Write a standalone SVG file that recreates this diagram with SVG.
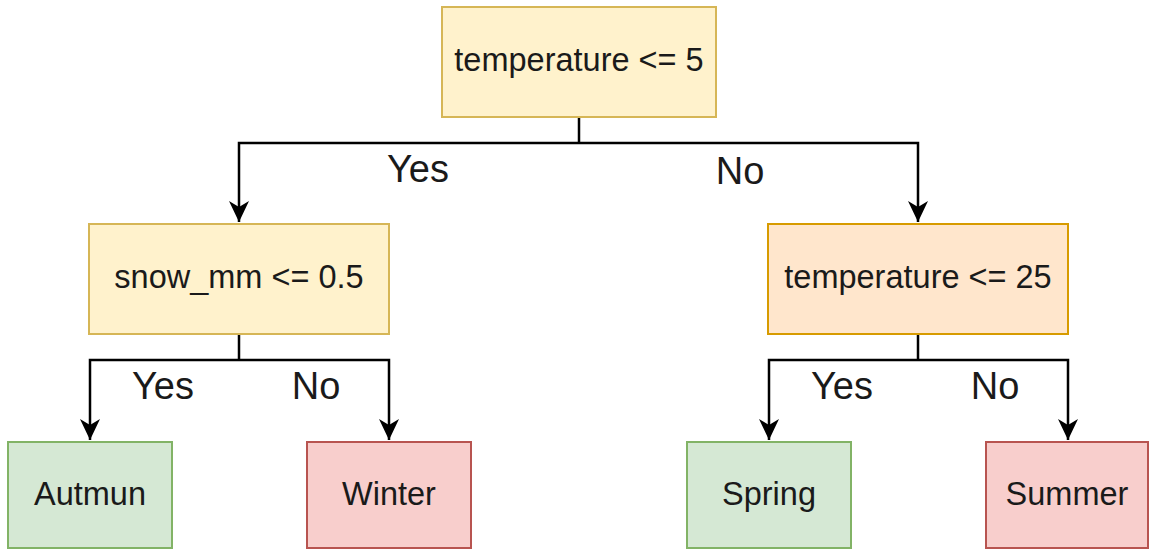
<svg xmlns="http://www.w3.org/2000/svg" width="1149" height="550" viewBox="0 0 1149 550">
<style>
.box{stroke-width:2}
.yellow{fill:#fff2cc;stroke:#d6b656}
.orange{fill:#ffe6cc;stroke:#d79b00}
.green{fill:#d5e8d4;stroke:#82b366}
.red{fill:#f8cecc;stroke:#b85450}
.nt{font-family:"Liberation Sans",Arial,sans-serif;font-size:32.5px;fill:#1a1a1a;text-anchor:middle}
.lbl{font-family:"Liberation Sans",Arial,sans-serif;font-size:38px;fill:#1a1a1a;text-anchor:middle}
.edge{fill:none;stroke:#000;stroke-width:2.5;marker-end:url(#arr)}
.stem{fill:none;stroke:#000;stroke-width:2.5}
</style>
<defs>
<marker id="arr" markerUnits="userSpaceOnUse" markerWidth="24" markerHeight="24" viewBox="-22 -12 24 24" refX="0" refY="0" orient="auto">
<path d="M0,0 L-21,-10 L-15,0 L-21,10 Z" fill="#000"/>
</marker>
</defs>
<g id="connectors">
<path class="stem" d="M579,117 V143"/>
<path class="edge" d="M579,143 H239 V222"/>
<path class="edge" d="M579,143 H918 V222"/>
<path class="stem" d="M239,334 V360"/>
<path class="edge" d="M239,360 H90 V440"/>
<path class="edge" d="M239,360 H389 V440"/>
<path class="stem" d="M918,334 V360"/>
<path class="edge" d="M918,360 H769 V440"/>
<path class="edge" d="M918,360 H1068 V440"/>
<text class="lbl" x="418" y="182">Yes</text>
<text class="lbl" x="740" y="184">No</text>
<text class="lbl" x="163" y="399">Yes</text>
<text class="lbl" x="316" y="399">No</text>
<text class="lbl" x="842" y="399">Yes</text>
<text class="lbl" x="995" y="399">No</text>
</g>
<g id="node-root">
<rect class="box yellow" x="442" y="7" width="274" height="110"/>
<text class="nt" x="579" y="71">temperature &lt;= 5</text>
</g>
<g id="node-snow">
<rect class="box yellow" x="89" y="224" width="300" height="110"/>
<text class="nt" x="239" y="288">snow_mm &lt;= 0.5</text>
</g>
<g id="node-temp25">
<rect class="box orange" x="768" y="224" width="300" height="110"/>
<text class="nt" x="918" y="288">temperature &lt;= 25</text>
</g>
<g id="node-autmun">
<rect class="box green" x="8" y="442" width="164" height="106"/>
<text class="nt" x="90" y="505">Autmun</text>
</g>
<g id="node-winter">
<rect class="box red" x="307" y="442" width="164" height="106"/>
<text class="nt" x="389" y="505">Winter</text>
</g>
<g id="node-spring">
<rect class="box green" x="687" y="442" width="164" height="106"/>
<text class="nt" x="769" y="505">Spring</text>
</g>
<g id="node-summer">
<rect class="box red" x="986" y="442" width="162" height="106"/>
<text class="nt" x="1067" y="505">Summer</text>
</g>
</svg>
